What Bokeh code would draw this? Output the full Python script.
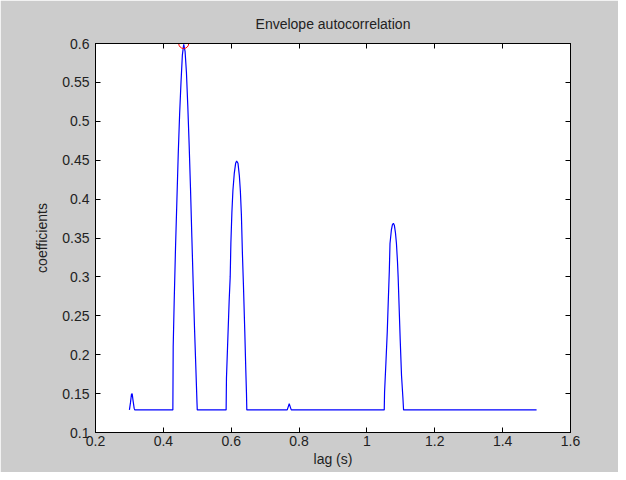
from bokeh.plotting import figure
from bokeh.models import LinearAxis, FixedTicker, Range1d, Title, CustomLabelingPolicy
from bokeh.embed import file_html
from bokeh.resources import INLINE

# Envelope autocorrelation curve
lag = [0.300, 0.303, 0.306, 0.308, 0.311, 0.314, 0.316,
       0.428, 0.429, 0.432, 0.436, 0.440, 0.444, 0.448, 0.452, 0.456, 0.460,
       0.464, 0.468, 0.472, 0.476, 0.480, 0.484, 0.488, 0.492, 0.496, 0.499, 0.500,
       0.585, 0.586, 0.590, 0.594, 0.597, 0.599, 0.602, 0.605, 0.609, 0.613, 0.616,
       0.620, 0.624, 0.627, 0.630, 0.633, 0.636, 0.640, 0.643, 0.645, 0.646,
       0.765, 0.768, 0.771, 0.774, 0.777,
       1.051, 1.052, 1.056, 1.060, 1.063, 1.066, 1.068, 1.072, 1.075, 1.078,
       1.081, 1.084, 1.087, 1.090, 1.092, 1.095, 1.098, 1.102, 1.106, 1.108,
       1.500]
coef = [0.129, 0.138, 0.149, 0.150, 0.140, 0.131, 0.129,
        0.129, 0.210, 0.270, 0.340, 0.400, 0.460, 0.510, 0.550, 0.585, 0.599,
        0.590, 0.563, 0.520, 0.470, 0.414, 0.351, 0.290, 0.232, 0.180, 0.140, 0.129,
        0.129, 0.170, 0.220, 0.270, 0.300, 0.343, 0.383, 0.411, 0.433, 0.446, 0.449,
        0.446, 0.430, 0.410, 0.380, 0.330, 0.290, 0.230, 0.180, 0.150, 0.129,
        0.129, 0.133, 0.137, 0.133, 0.129,
        0.129, 0.152, 0.190, 0.230, 0.270, 0.308, 0.343, 0.360, 0.367, 0.369,
        0.366, 0.357, 0.343, 0.320, 0.300, 0.260, 0.220, 0.173, 0.145, 0.129,
        0.129]

peak_lag = [0.46]
peak_coef = [0.6]

x_ticks = [0.2, 0.4, 0.6, 0.8, 1.0, 1.2, 1.4, 1.6]
x_tick_labels = ["0.2", "0.4", "0.6", "0.8", "1", "1.2", "1.4", "1.6"]
y_ticks = [0.1, 0.15, 0.2, 0.25, 0.3, 0.35, 0.4, 0.45, 0.5, 0.55, 0.6]
y_tick_labels = ["0.1", "0.15", "0.2", "0.25", "0.3", "0.35", "0.4", "0.45", "0.5", "0.55", "0.6"]

FONT = "Liberation Sans"
GRAY = "#cccccc"
TXT = "#222222"

p = figure(width=618, height=472, output_backend="svg", toolbar_location=None,
           x_range=Range1d(0.2, 1.6), y_range=Range1d(0.1, 0.6),
           x_axis_label="lag (s)", y_axis_label="coefficients",
           min_border_left=95, min_border_right=48, min_border_top=43, min_border_bottom=40)

p.background_fill_color = "white"
p.border_fill_color = GRAY
p.outline_line_color = "black"
p.outline_line_width = 1
p.xgrid.visible = False
p.ygrid.visible = False

p.title = Title(text="Envelope autocorrelation", align="center", text_font=FONT,
                text_font_size="14px", text_font_style="normal", text_color=TXT,
                standoff=16)

def style_axis(ax, ticks, labels, show_labels=True):
    ax.ticker = FixedTicker(ticks=ticks)
    ax.minor_tick_line_color = None
    ax.major_tick_in = 5
    ax.major_tick_out = 0
    ax.major_tick_line_color = "black"
    ax.axis_line_color = "black"
    ax.major_label_text_font = FONT
    ax.major_label_text_color = TXT
    ax.axis_label_text_font = FONT
    ax.axis_label_text_font_size = "14px"
    ax.axis_label_text_font_style = "normal"
    ax.axis_label_text_color = TXT
    if show_labels:
        ax.major_label_overrides = {t: l for t, l in zip(ticks, labels)}
        ax.major_label_text_font_size = "14px"
    else:
        ax.major_label_policy = CustomLabelingPolicy(code="return new Set()")
        ax.major_label_text_font_size = "1px"
        ax.major_label_standoff = 0

xa = p.xaxis[0]
ya = p.yaxis[0]
style_axis(xa, x_ticks, x_tick_labels)
style_axis(ya, y_ticks, y_tick_labels)
xa.major_label_standoff = 3
xa.axis_label_standoff = 2
ya.major_label_standoff = 6
ya.axis_label_standoff = 9

top = LinearAxis()
style_axis(top, x_ticks, x_tick_labels, show_labels=False)
p.add_layout(top, "above")
right = LinearAxis()
style_axis(right, y_ticks, y_tick_labels, show_labels=False)
p.add_layout(right, "right")

p.line(lag, coef, line_color="#0000ff", line_width=1.2)
p.scatter(peak_lag, peak_coef, marker="circle", size=10, fill_color=None,
          line_color="#ff0000", line_width=1)

open("out.html", "w").write(file_html(p, INLINE))
